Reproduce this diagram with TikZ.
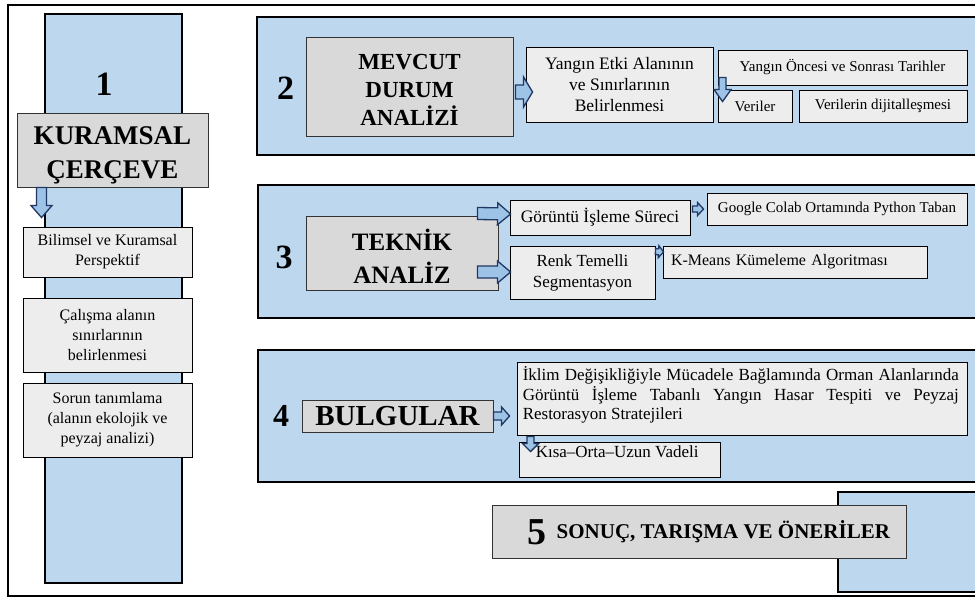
\documentclass[tikz,border=0pt]{standalone}
\usepackage{fontspec}
\setmainfont{Liberation Serif}
\usetikzlibrary{calc}
\definecolor{panelblue}{HTML}{BDD7EE}
\definecolor{titlegray}{HTML}{D9D9D9}
\definecolor{subgray}{HTML}{EDEDED}
\definecolor{arrowfill}{HTML}{9DC3E6}
\definecolor{arrowline}{HTML}{1F3864}
\newcommand{\fsz}[2]{\fontsize{#1}{#2}\selectfont}
\tikzset{
  panel/.style={draw=black, line width=1.6pt, fill=panelblue},
  titlebox/.style={draw=black!80, line width=1pt, fill=titlegray, align=center, inner sep=2pt},
  titletext/.style={align=center, inner sep=0pt},
  subbox/.style={draw=black, line width=0.9pt, fill=subgray, align=center, inner sep=2pt},
  numtext/.style={font=\bfseries\fsz{34}{34}, inner sep=0pt},
  barrow/.style n args={3}{draw=arrowline, fill=arrowfill, line width=1.3pt, line join=miter,
    to path={let \p1=(\tikztostart), \p2=(\tikztotarget),
      \n1={atan2(\y2-\y1,\x2-\x1)}, \n2={veclen(\x2-\x1,\y2-\y1)} in
      [shift={(\p1)}, rotate=\n1]
      (0pt,-#1) -- (\n2-#3,-#1) -- (\n2-#3,-#2) -- (\n2,0pt) -- (\n2-#3,#2) -- (\n2-#3,#1) -- (0pt,#1) -- cycle}},
}
\begin{document}
\begin{tikzpicture}[x=1pt, y=-1pt]
\useasboundingbox (0,0) rectangle (975,598);
\clip (0,0) rectangle (975,598);
\fill[white] (0,0) rectangle (975,598);
% outer frame
\draw[line width=1.6pt] (8,5) rectangle (990,596);
% column 1
\draw[panel] (45,14) rectangle (182,583);
% panels
\draw[panel] (257,17) rectangle (990,155);
\draw[panel] (258,185) rectangle (990,318);
\draw[panel] (258,350) rectangle (990,482);
\draw[panel] (838,492) rectangle (990,592);

% ---- 1
\node[numtext] (n1) at (104,84) {1};
\node[titlebox, minimum width=191pt, minimum height=74pt] (k1) at (112.5,150) {};
\node[titletext, font=\bfseries\fsz{27}{34}] (k1t) at ($(k1.center)+(0,5)$) {KURAMSAL\\ÇERÇEVE};
\node[subbox, font=\fsz{16}{20}, minimum width=169pt, minimum height=50pt] (b1) at (107.5,252) {Bilimsel ve Kuramsal\\Perspektif};
\node[subbox, font=\fsz{16}{20}, minimum width=169pt, minimum height=74pt] (c1) at (107.5,335) {Çalışma alanın\\sınırlarının\\belirlenmesi};
\node[subbox, font=\fsz{16}{20}, minimum width=169pt, minimum height=74pt] (s1) at (107.5,420) {Sorun tanımlama\\(alanın ekolojik ve\\peyzaj analizi)};

% ---- 2
\node[numtext] (n2) at (285.5,88.5) {2};
\node[titlebox, minimum width=207pt, minimum height=99pt] (m2) at (409.5,86.5) {};
\node[titletext, font=\bfseries\fsz{23}{28}] (m2t) at ($(m2.center)+(0,3)$) {MEVCUT\\DURUM\\ANALİZİ};
\node[subbox, font=\fsz{17.5}{21}, minimum width=187pt, minimum height=75pt] (y2) at (619.5,84.5) {Yangın Etki Alanının\\ve Sınırlarının\\Belirlenmesi};
\node[subbox, font=\fsz{15}{18}, minimum width=249pt, minimum height=35pt] (t2) at (842.5,67.5) {Yangın Öncesi ve Sonrası Tarihler};
\node[subbox, font=\fsz{15}{18}, minimum width=74pt, minimum height=32pt] (v2) at (755,106) {Veriler};
\node[subbox, font=\fsz{15}{18}, minimum width=168pt, minimum height=32pt] (d2) at (883,106) {Verilerin dijitalleşmesi};

% ---- 3
\node[numtext] (n3) at (284,257.5) {3};
\node[titlebox, minimum width=192pt, minimum height=74pt] (te3) at (402,253) {};
\node[titletext, font=\bfseries\fsz{25}{33}] (te3t) at ($(te3.center)+(0,3)$) {TEKNİK\\ANALİZ};
\node[subbox, font=\fsz{17.5}{20}, minimum width=180pt, minimum height=35pt] (g3) at (600,217.5) {Görüntü İşleme Süreci};
\node[subbox, font=\fsz{17}{21}, minimum width=145pt, minimum height=53pt] (r3) at (582.5,272.5) {Renk Temelli\\Segmentasyon};
\node[subbox, font=\fsz{15}{18}, minimum width=260pt, minimum height=32pt] (gc3) at (837,209) {Google Colab Ortamında Python Taban};
\node[subbox, font=\fsz{16}{19}, minimum width=264pt, minimum height=32pt, text width=248pt, align=left] (k3) at (795,262) {K-Means Kümeleme Algoritması};

% ---- 4
\node[numtext, font=\bfseries\fsz{32}{32}] (n4) at (281,416) {4};
\node[titlebox, font=\bfseries\fsz{29}{30}, minimum width=191pt, minimum height=32pt] (b4) at (397.5,416) {BULGULAR};
\node[subbox, minimum width=450pt, minimum height=73pt] (i4) at (742,398.5) {};
\node[anchor=north west, inner sep=0pt, text width=436pt, align=justify, font=\fsz{17}{19.5}] (i4t) at ($(i4.north west)+(6,5)$)
  {İklim Değişikliğiyle Mücadele Bağlamında Orman Alanlarında\linebreak Görüntü İşleme Tabanlı Yangın Hasar Tespiti ve Peyzaj\linebreak Restorasyon Stratejileri};
\node[subbox, minimum width=201pt, minimum height=35pt] (ku4) at (619.5,459.5) {};
\node[anchor=north west, inner sep=0pt, font=\fsz{17}{19}] (ku4t) at ($(ku4.north west)+(17,4)$) {Kısa–Orta–Uzun Vadeli};

% ---- 5
\node[titlebox, minimum width=414pt, minimum height=53pt] (s5) at (699,531.5) {};
\node[anchor=base west, inner sep=0pt] (s5t) at ($(s5.west)+(36,7)$)
  {\raisebox{-6pt}{\bfseries\fsz{38}{38}5}\hspace{10pt}{\bfseries\fsz{21}{21}SONUÇ, TARIŞMA VE ÖNERİLER}};

% ---- arrows
\draw[barrow={5pt}{10.5pt}{12pt}] ($(k1.south west)+(25,0)$) to ($(b1.north west)+(19,-9)$);
\draw[barrow={7pt}{15pt}{9pt}] ($(m2.east)+(2,5.5)$) to ($(y2.west)+(7,7.5)$);
\draw[barrow={3.5pt}{8.5pt}{12pt}] ($(t2.south west)+(5,-8)$) to ($(v2.north west)+(5,12)$);
\draw[barrow={6pt}{11pt}{13pt}] ($(te3.north east)+(-21,-2)$) to ($(g3.west)+(1,-3.5)$);
\draw[barrow={6pt}{11pt}{13pt}] ($(te3.east)+(-21,19)$) to ($(r3.west)+(1,-0.5)$);
\draw[barrow={3pt}{6.5pt}{6pt}] ($(g3.east)+(2,-8.5)$) to ($(gc3.west)+(-3,0)$);
\draw[barrow={3pt}{6pt}{5pt}] ($(r3.north east)+(0,6)$) to ($(k3.west)+(1,-10)$);
\draw[barrow={4pt}{9pt}{8pt}] (b4.east) to ($(i4.west)+(-7,17.5)$);
\draw[barrow={3.5pt}{8pt}{8pt}] ($(i4.south west)+(14,1)$) to ($(ku4.north west)+(12,10)$);
\end{tikzpicture}
\end{document}
